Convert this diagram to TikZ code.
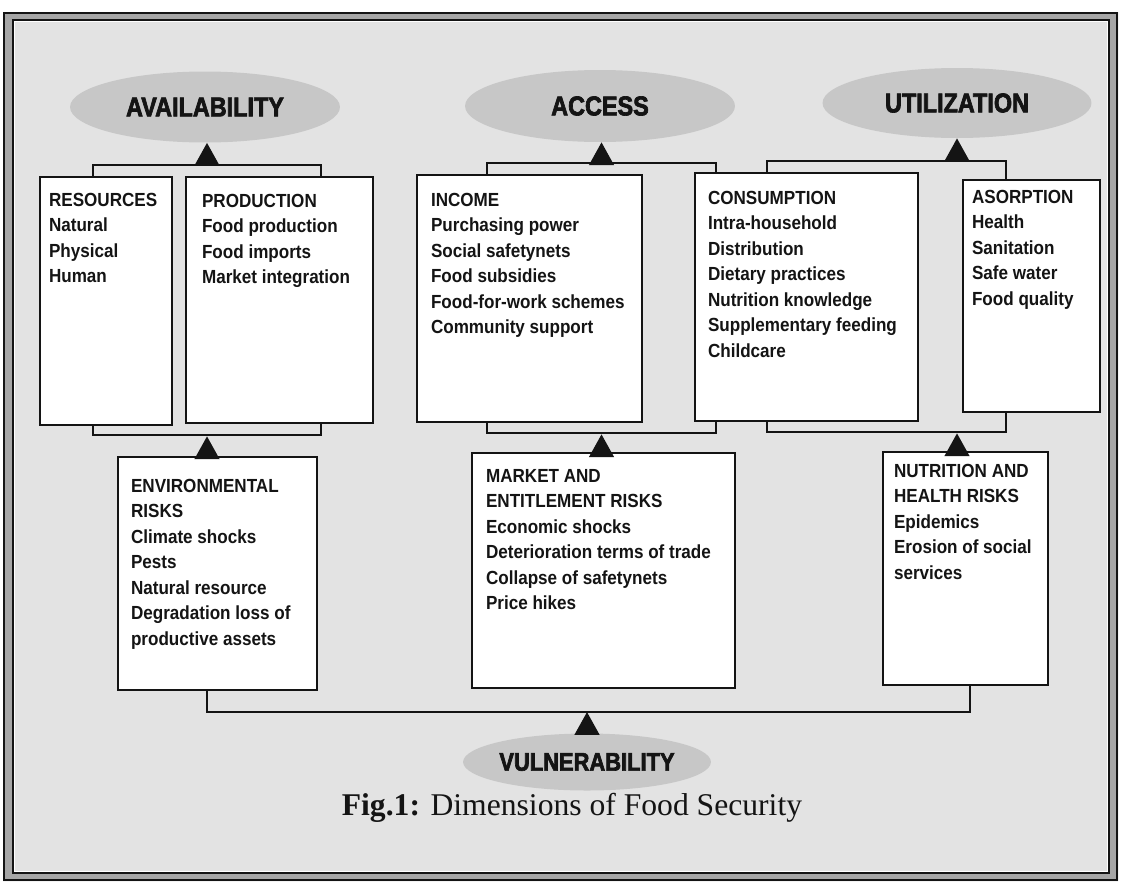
\documentclass[tikz,border=0pt]{standalone}
\usepackage{fontspec}
\setmainfont{Liberation Serif}
\newfontfamily\boxfont[FakeStretch=0.9]{Liberation Sans}
\newfontfamily\headfont[FakeStretch=0.86,FakeBold=2.5]{Liberation Sans}
\usetikzlibrary{shapes.geometric,fit,arrows.meta}

\definecolor{paper}{gray}{0.89}
\definecolor{pill}{gray}{0.78}
\definecolor{ink}{gray}{0.08}

\tikzset{
  dimension/.style={ellipse, fill=pill, inner sep=0pt, text=ink,
    font=\headfont\bfseries\fontsize{15.5}{18}\selectfont},
  groupframe/.style={draw=ink, line width=1.5pt, inner sep=0pt},
  factorbox/.style={draw=ink, line width=1.5pt, fill=white, inner sep=0pt},
  factortext/.style={anchor=north west, inner sep=0pt, align=left, text=ink,
    font=\boxfont\bfseries\fontsize{10.8}{14.5}\selectfont},
  link/.style={draw=ink, line width=1.5pt},
  uparrow/.style={link, -{Triangle[width=14pt,length=13pt]}},
}

\begin{document}
\begin{tikzpicture}[x=0.02cm, y=-0.02cm]
\useasboundingbox (0,0) rectangle (1121,886);

%frame and paper:
\fill[white] (0,0) rectangle (1121,886);
\fill[paper] (15,22) rectangle (1107,871);
\fill[gray!70, even odd rule] (3,12) rectangle (1118,881) (12,19) rectangle (1110,874);
\draw[ink, line width=1.6pt] (4,13) rectangle (1117,880);
\draw[ink, line width=0.8pt] (13,20) rectangle (1109,873);

%the four dimensions:
\node[dimension, minimum width=5.4cm, minimum height=1.42cm] (avail) at (205,107) {AVAILABILITY};
\node[dimension, minimum width=5.4cm, minimum height=1.44cm] (acc) at (600,106) {ACCESS};
\node[dimension, minimum width=5.38cm, minimum height=1.4cm] (util) at (957,103) {UTILIZATION};
\node[dimension, minimum width=4.74cm, minimum height=1.14cm,
  font=\headfont\bfseries\fontsize{14.5}{17}\selectfont] (vul) at (587,762) {VULNERABILITY};

%frames behind the groups of boxes:
\node[groupframe, fit={(93,165) (321,435)}] (availbr) {};
\node[groupframe, fit={(487,163) (716,433)}] (accbr) {};
\node[groupframe, fit={(767,161) (1006,432)}] (utilbr) {};

%upper boxes:
\node[factorbox, fit={(40,177) (172,425)}] (res) {};
\node[factorbox, fit={(186,177) (373,423)}] (prod) {};
\node[factorbox, fit={(417,175) (642,422)}] (inc) {};
\node[factorbox, fit={(695,173) (918,421)}] (cons) {};
\node[factorbox, fit={(963,180) (1100,412)}] (asor) {};

\node[factortext] (resT) at ([shift={(10,17)}]res.north west)
  {RESOURCES\\Natural\\Physical\\Human};
\node[factortext] (prodT) at ([shift={(17,18)}]prod.north west)
  {PRODUCTION\\Food production\\Food imports\\Market integration};
\node[factortext] (incT) at ([shift={(15,19)}]inc.north west)
  {INCOME\\Purchasing power\\Social safetynets\\Food subsidies\\Food-for-work schemes\\Community support};
\node[factortext] (consT) at ([shift={(14,19)}]cons.north west)
  {CONSUMPTION\\Intra-household\\Distribution\\Dietary practices\\Nutrition knowledge\\Supplementary feeding\\Childcare};
\node[factortext] (asorT) at ([shift={(10,11)}]asor.north west)
  {ASORPTION\\Health\\Sanitation\\Safe water\\Food quality};

%risk boxes:
\node[factorbox, fit={(118,457) (317,690)}] (env) {};
\node[factorbox, fit={(472,453) (735,688)}] (mkt) {};
\node[factorbox, fit={(883,452) (1048,685)}] (nut) {};

\node[factortext] (envT) at ([shift={(14,23)}]env.north west)
  {ENVIRONMENTAL\\RISKS\\Climate shocks\\Pests\\Natural resource\\Degradation loss of\\productive assets};
\node[factortext] (mktT) at ([shift={(15,17)}]mkt.north west)
  {MARKET AND\\ENTITLEMENT RISKS\\Economic shocks\\Deterioration terms of trade\\Collapse of safetynets\\Price hikes};
\node[factortext] (nutT) at ([shift={(12,13)}]nut.north west)
  {NUTRITION AND\\HEALTH RISKS\\Epidemics\\Erosion of social\\services};

%arrows up to the dimensions:
\draw[uparrow] (availbr.north) -- (availbr.north |- avail.south);
\draw[uparrow] (accbr.north) -- (accbr.north |- acc.south);
\draw[uparrow] (utilbr.north -| util.south) -- (util.south);

%arrows from the risks:
\draw[uparrow] (env.north -| availbr.south) -- (availbr.south);
\draw[uparrow] (mkt.north -| accbr.south) -- (accbr.south);
\draw[uparrow] (nut.north -| util.south) -- (utilbr.south -| util.south);

%vulnerability line:
\coordinate (vleft) at (207,712);
\coordinate (vright) at (970,712);
\draw[link] (vleft |- env.south) -- (vleft) -- (vright) -- (vright |- nut.south);
\draw[uparrow] (vul.north) -- (vul.north |- vleft);

%caption:
\node[text=ink, font=\fontsize{18}{20}\selectfont] (caption) at (572,808)
  {\textbf{Fig.1:} Dimensions of Food Security};
\end{tikzpicture}
\end{document}
